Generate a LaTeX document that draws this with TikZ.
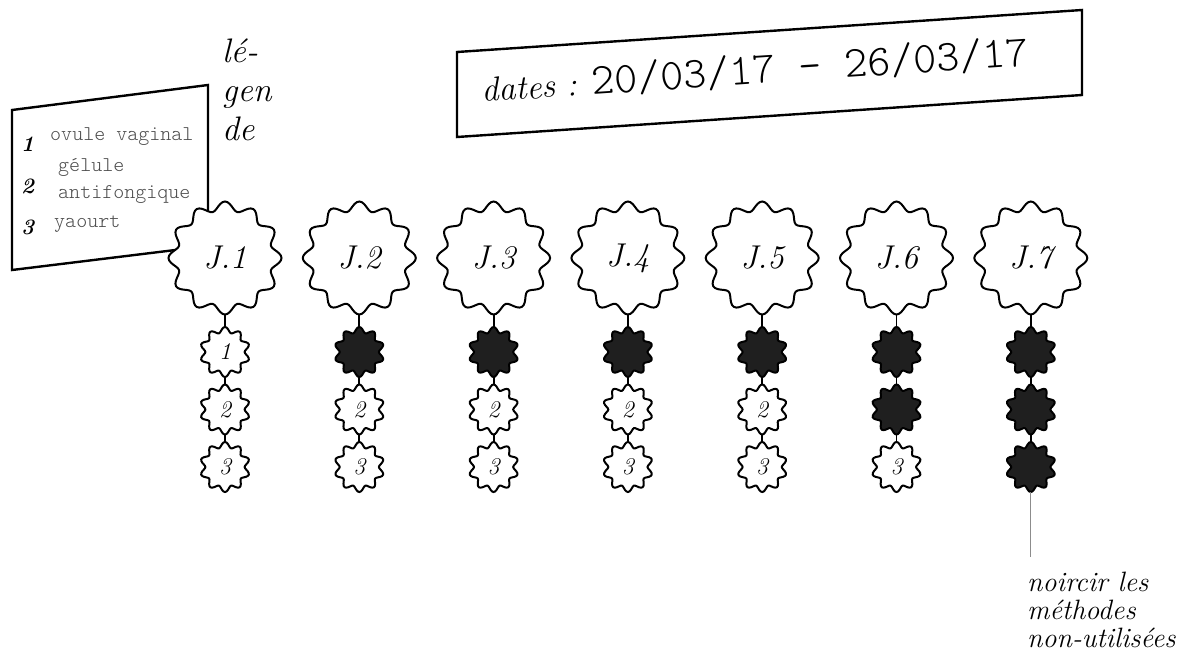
\documentclass[tikz,border=0pt]{standalone}
\usepackage{fontspec}
\usetikzlibrary{positioning, backgrounds}
\newfontfamily\thinmono{lmmonolt10-regular}[Extension=.otf]

\tikzset{
    pics/bigwave/.style={code={\path[pic actions] plot[smooth cycle, domain=0:357.5, samples=144] (\x:{52+4.5*cos(12*\x)});}},
    pics/smallwave/.style={code={\path[pic actions] plot[smooth cycle, domain=0:356.4, samples=100] (\x:{22.3+2.7*cos(10*(\x-90))});}}
}

\begin{document}
\begin{tikzpicture}[
    x=1pt, y=-1pt,
    day/.style={circle, inner sep=0pt, minimum size=113pt, font=\fontsize{33}{38}\selectfont\itshape},
    dose/.style={circle, inner sep=0pt, minimum size=50pt, font=\fontsize{24}{28}\selectfont\itshape},
    wave/.style={draw, line width=2pt, fill=white},
    used/.style={fill=black!88},
    link/.style={line width=1.8pt},
    hint/.style={line width=1.2pt, black!45},
    frame/.style={line width=2.4pt, line join=miter},
    num/.style={anchor=base west, inner sep=0pt, font=\fontsize{22}{24}\selectfont\bfseries\itshape},
    item/.style={anchor=base west, inner sep=0pt, text=black!70, font=\fontsize{21}{27}\selectfont\thinmono},
    node distance=134.3pt
]
    \useasboundingbox (0,0) rectangle (1189,659);

    % jours
    \node[day] (j1) at (225,258) {J.1};
    \foreach \k [remember=\k as \prev (initially 1)] in {2,...,7}
        \node[day, right of=j\prev] (j\k) {J.\k};

    % prises (1, 2, 3) sous chaque jour
    \foreach \k/\n in {1/0, 2/1, 3/1, 4/1, 5/1, 6/2, 7/3} {
        \foreach \i in {1,2,3} {
            \ifnum\i>\n
                \path (j\k) ++(0,{94+57.5*(\i-1)}) node[dose] (j\k-\i) {\i};
            \else
                \path (j\k) ++(0,{94+57.5*(\i-1)}) node[dose] (j\k-\i) {};
            \fi
        }
    }

    % cadre de la legende et contours ondules
    \begin{scope}[on background layer]
        \draw[frame] (12,110) -- (208,85) -- (208,246) -- (12,270) -- cycle;
        \foreach \k/\n in {1/0, 2/1, 3/1, 4/1, 5/1, 6/2, 7/3} {
            \pic[wave] at (j\k) {bigwave};
            \foreach \i in {1,2,3} {
                \ifnum\i>\n
                    \pic[wave] at (j\k-\i) {smallwave};
                \else
                    \pic[wave, used] at (j\k-\i) {smallwave};
                \fi
            }
        }
    \end{scope}

    % liaisons
    \foreach \k in {1,...,7}
        \draw[link] (j\k) -- (j\k-1) -- (j\k-2) -- (j\k-3);

    % legende
    \node[anchor=north west, inner sep=0pt, align=left, font=\fontsize{34}{39}\selectfont\itshape] (title) at (222,39) {lé-\\gen\\de};
    \node[num] (n1) at (21,151) {1};
    \node[item] (i1) at (50,140) {ovule vaginal};
    \node[num] (n2) at (21,193) {2};
    \node[item, anchor=north west, align=left] (i2) at (58,158) {gélule\\antifongique};
    \node[num] (n3) at (21,234) {3};
    \node[item] (i3) at (54,227) {yaourt};

    % dates
    \draw[frame] (457,52) -- (1082,10) -- (1082,95) -- (457,137) -- cycle;
    \node[anchor=base west, inner sep=0pt, rotate=3.8, font=\fontsize{34}{38}\selectfont\itshape] (dates) at (482,102)
        {dates :\hspace{14pt}{\fontsize{44}{50}\selectfont\upshape\thinmono 20/03/17 - 26/03/17}};

    % remarque
    \node[anchor=north west, inner xsep=0pt, inner ysep=15pt, align=left, font=\fontsize{28}{28}\selectfont\itshape] (note) at (1027,557)
        {noircir les\\méthodes\\non-utilisées};
    \draw[hint] (j7-3) -- (j7-3 |- note.north);

\end{tikzpicture}
\end{document}
